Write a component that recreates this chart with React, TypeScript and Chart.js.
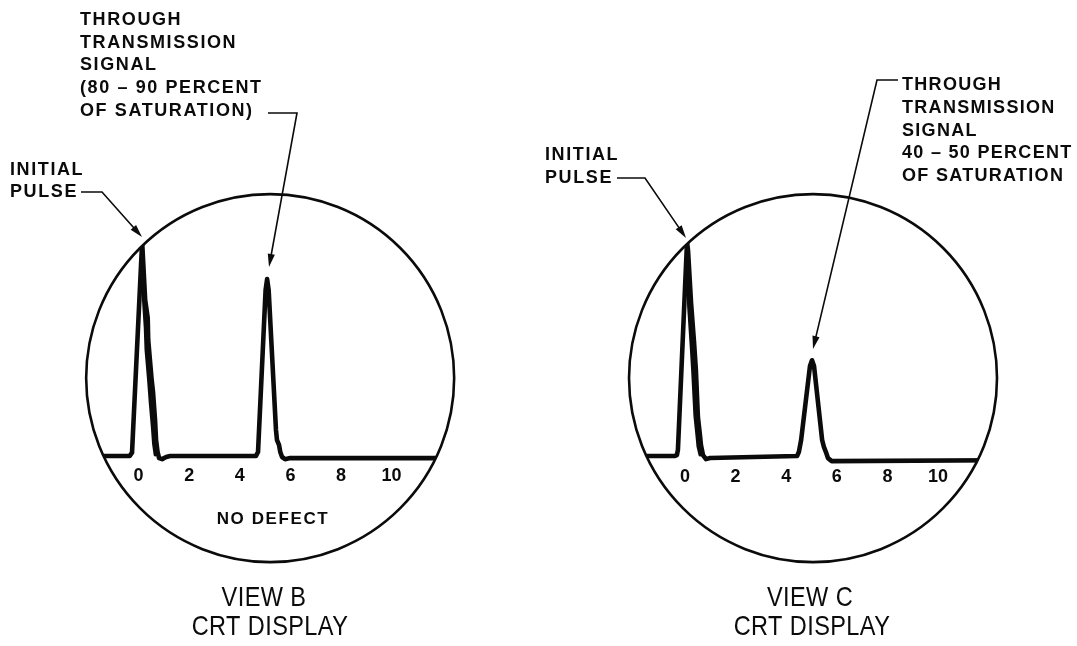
import React, { useEffect, useRef } from "react";
import { Chart, registerables } from "chart.js";

Chart.register(...registerables);

// ---------------- data ----------------
const TICK_VALUES = [0, 2, 4, 6, 8, 10];
const TICK_LABELS = ["0", "2", "4", "6", "8", "10"];

// View B: time (scale divisions) and amplitude (% of saturation)
const VIEW_B_TRACE_X = [-2.5, -0.35, -0.26, 0.14, 0.26, 0.36, 0.38, 0.51, 0.57, 0.65, 0.69, 0.75, 0.81, 0.93, 1.09, 1.25, 4.64, 4.72, 5.02, 5.08, 5.14, 5.43, 5.47, 5.55, 5.6, 5.67, 5.79, 5.99, 12.5];
const VIEW_B_TRACE_Y = [0.5, 0.5, 2, 100, 73, 64.7, 54.4, 36.7, 30.2, 17.2, 7.9, 2.3, -0.5, -1, 0, 0.5, 0.5, 2.3, 77.7, 82.8, 77.7, 12.6, 7.9, 5.6, 2.3, 0, -1, -0.5, -0.5];
const VIEW_B_RING_X = [0.15, 0.2, 0.27, 0.3, 0.4, 0.47, 0.55, 0.6, 0.66];
const VIEW_B_RING_Y = [97, 73, 60, 50, 36, 25, 14, 6, 1];

// View C
const VIEW_C_TRACE_X = [-2.5, -0.4, -0.32, -0.28, 0.08, 0.12, 0.24, 0.36, 0.43, 0.51, 0.59, 0.63, 0.71, 0.83, 0.99, 4.43, 4.5, 4.59, 4.94, 5.02, 5.1, 5.42, 5.49, 5.57, 5.65, 5.8, 12.5];
const VIEW_C_TRACE_Y = [0.5, 0.5, 0.9, 3.3, 100, 96, 71.6, 53, 40.5, 18.6, 10.2, 5.6, 0.9, -1, -0.5, 0.5, 2.3, 7.9, 42.3, 45, 42.3, 7.9, 4.7, 2.3, -0.5, -1.9, -1.5];
const VIEW_C_RING_X = [0.1, 0.15, 0.25, 0.31, 0.4, 0.48, 0.52, 0.6];
const VIEW_C_RING_Y = [95, 70, 52, 40, 19, 10, 5, 1];

// texts
const PULSE_TEXT = ["INITIAL", "PULSE"];
const VIEW_B_SIGNAL_TEXT = ["THROUGH", "TRANSMISSION", "SIGNAL", "(80 \u2013 90 PERCENT", "OF SATURATION)"];
const VIEW_C_SIGNAL_TEXT = ["THROUGH", "TRANSMISSION", "SIGNAL", "40 \u2013 50 PERCENT", "OF SATURATION"];
const VIEW_B_NOTE = "NO DEFECT";
const VIEW_B_CAPTION = ["VIEW B", "CRT DISPLAY"];
const VIEW_C_CAPTION = ["VIEW C", "CRT DISPLAY"];

// ---------------- layout ----------------
const W = 1077;
const H = 646;
const INK = "#0b0b0b";
const FONT = "'Liberation Sans', Arial, Helvetica, sans-serif";

type Pt = [number, number];
interface Layout {
  offsetX: number;
  width: number;
  padding: { left: number; right: number; top: number; bottom: number };
  circleX: number;
  circleY: number;
  radius: number;
  tickY: number;
  pulseX: number;
  pulseY: number[];
  pulseLines: string[];
  pulseLeader: Pt[];
  signalX: number;
  signalY: number[];
  signalLines: string[];
  signalSpacing: number;
  signalLeader: Pt[];
  note?: { text: string; x: number; y: number };
  caption: { lines: string[]; x: number[]; y: number[] };
}

const LAYOUT_B: Layout = {
  offsetX: 0,
  width: 538,
  padding: { left: 88, right: 95.8, top: 242, bottom: 146 },
  circleX: 5.2,
  circleY: 36.7,
  radius: 184,
  tickY: 476,
  pulseX: 10,
  pulseY: [170, 192],
  pulseLines: PULSE_TEXT,
  pulseLeader: [[81, 192], [102, 192], [142, 237]],
  signalX: 80,
  signalY: [20, 43, 65, 88, 111],
  signalLines: VIEW_B_SIGNAL_TEXT,
  signalSpacing: 1.6,
  signalLeader: [[268, 113], [297, 113], [269, 267]],
  note: { text: VIEW_B_NOTE, x: 273, y: 519 },
  caption: { lines: VIEW_B_CAPTION, x: [264, 270], y: [598, 627] },
};

const LAYOUT_C: Layout = {
  offsetX: 538,
  width: 539,
  padding: { left: 96.4, right: 88.4, top: 242, bottom: 146 },
  circleX: 5.06,
  circleY: 36.7,
  radius: 184,
  tickY: 477,
  pulseX: 545,
  pulseY: [155, 178],
  pulseLines: PULSE_TEXT,
  pulseLeader: [[617, 178], [645, 178], [686, 238]],
  signalX: 902,
  signalY: [85, 108, 131, 153, 176],
  signalLines: VIEW_C_SIGNAL_TEXT,
  signalSpacing: 1.3,
  signalLeader: [[898, 80], [877, 80], [813, 349]],
  caption: { lines: VIEW_C_CAPTION, x: [810, 812], y: [598, 627] },
};

function drawText(
  ctx: CanvasRenderingContext2D,
  text: string,
  x: number,
  y: number,
  font: string,
  align: CanvasTextAlign,
  spacing: number,
  scaleX = 1
) {
  ctx.save();
  ctx.font = font;
  ctx.fillStyle = INK;
  ctx.textBaseline = "middle";
  ctx.textAlign = align;
  (ctx as any).letterSpacing = spacing + "px";
  ctx.translate(x, y);
  ctx.scale(scaleX, 1);
  ctx.fillText(text, 0, 0);
  ctx.restore();
}

function drawLeader(ctx: CanvasRenderingContext2D, pts: Pt[], ox: number) {
  ctx.save();
  ctx.strokeStyle = INK;
  ctx.fillStyle = INK;
  ctx.lineWidth = 1.6;
  ctx.lineJoin = "miter";
  const p = pts.map(([x, y]) => [x - ox, y] as Pt);
  const [tx, ty] = p[p.length - 1];
  const [px, py] = p[p.length - 2];
  const ang = Math.atan2(ty - py, tx - px);
  const headLen = 13;
  const halfW = 3.6;
  ctx.beginPath();
  ctx.moveTo(p[0][0], p[0][1]);
  for (let i = 1; i < p.length - 1; i++) ctx.lineTo(p[i][0], p[i][1]);
  ctx.lineTo(tx - Math.cos(ang) * headLen * 0.8, ty - Math.sin(ang) * headLen * 0.8);
  ctx.stroke();
  const bx = tx - Math.cos(ang) * headLen;
  const by = ty - Math.sin(ang) * headLen;
  ctx.beginPath();
  ctx.moveTo(tx, ty);
  ctx.lineTo(bx + Math.sin(ang) * halfW, by - Math.cos(ang) * halfW);
  ctx.lineTo(bx - Math.sin(ang) * halfW, by + Math.cos(ang) * halfW);
  ctx.closePath();
  ctx.fill();
  ctx.restore();
}

function makeCrtPlugin(L: Layout) {
  return {
    id: "crt",
    beforeDatasetsDraw(chart: any) {
      const { ctx } = chart;
      const cx = chart.scales.x.getPixelForValue(L.circleX);
      const cy = chart.scales.y.getPixelForValue(L.circleY);
      ctx.save();
      ctx.beginPath();
      ctx.arc(cx, cy, L.radius + 0.5, 0, Math.PI * 2);
      ctx.clip();
    },
    afterDatasetsDraw(chart: any) {
      chart.ctx.restore();
    },
    afterDraw(chart: any) {
      const ctx: CanvasRenderingContext2D = chart.ctx;
      const xs = chart.scales.x;
      const ys = chart.scales.y;
      const ox = L.offsetX;
      // CRT face
      ctx.save();
      ctx.strokeStyle = INK;
      ctx.lineWidth = 2.6;
      ctx.beginPath();
      ctx.arc(xs.getPixelForValue(L.circleX), ys.getPixelForValue(L.circleY), L.radius, 0, Math.PI * 2);
      ctx.stroke();
      ctx.restore();
      // scale numbers
      TICK_VALUES.forEach((v, i) => {
        drawText(ctx, TICK_LABELS[i], xs.getPixelForValue(v), L.tickY, `bold 18px ${FONT}`, "center", 0);
      });
      // annotations
      const aFont = `bold 18px ${FONT}`;
      L.pulseLines.forEach((t, i) => drawText(ctx, t, L.pulseX - ox, L.pulseY[i], aFont, "left", 1.6));
      L.signalLines.forEach((t, i) =>
        drawText(ctx, t, L.signalX - ox, L.signalY[i], aFont, "left", L.signalSpacing)
      );
      drawLeader(ctx, L.pulseLeader, ox);
      drawLeader(ctx, L.signalLeader, ox);
      if (L.note) drawText(ctx, L.note.text, L.note.x - ox, L.note.y, `bold 17px ${FONT}`, "center", 1.6);
      L.caption.lines.forEach((t, i) =>
        drawText(ctx, t, L.caption.x[i] - ox, L.caption.y[i], `28px ${FONT}`, "center", 0.5, 0.84)
      );
    },
  };
}

function toPoints(xs: number[], ys: number[]) {
  return xs.map((x, i) => ({ x, y: ys[i] }));
}

function CrtView(props: { layout: Layout; tx: number[]; ty: number[]; rx: number[]; ry: number[] }) {
  const ref = useRef<HTMLCanvasElement>(null);
  const { layout } = props;
  useEffect(() => {
    if (!ref.current) return;
    const chart = new Chart(ref.current, {
      type: "line",
      data: {
        datasets: [
          {
            label: "Trace",
            data: toPoints(props.tx, props.ty),
            borderColor: INK,
            borderWidth: 4.6,
            pointRadius: 0,
            tension: 0,
            fill: false,
            borderJoinStyle: "round",
            borderCapStyle: "round",
            clip: false as any,
          },
          {
            label: "Ringing",
            data: toPoints(props.rx, props.ry),
            borderColor: INK,
            borderWidth: 3.4,
            pointRadius: 0,
            tension: 0,
            fill: false,
            borderJoinStyle: "round",
            borderCapStyle: "round",
            clip: false as any,
          },
        ],
      },
      options: {
        responsive: false,
        animation: false,
        events: [],
        layout: { padding: layout.padding },
        plugins: { legend: { display: false }, tooltip: { enabled: false }, title: { display: false } },
        scales: {
          x: { type: "linear", min: -2, max: 12, display: false },
          y: { type: "linear", min: -20, max: 100, display: false },
        },
      },
      plugins: [makeCrtPlugin(layout)],
    });
    return () => chart.destroy();
  }, []);
  return (
    <canvas
      ref={ref}
      width={layout.width}
      height={H}
      style={{ position: "absolute", left: layout.offsetX, top: 0, width: layout.width, height: H }}
    />
  );
}

export default function App() {
  return (
    <div style={{ position: "absolute", left: 0, top: 0, width: W, height: H, background: "#fff", overflow: "hidden" }}>
      <CrtView layout={LAYOUT_B} tx={VIEW_B_TRACE_X} ty={VIEW_B_TRACE_Y} rx={VIEW_B_RING_X} ry={VIEW_B_RING_Y} />
      <CrtView layout={LAYOUT_C} tx={VIEW_C_TRACE_X} ty={VIEW_C_TRACE_Y} rx={VIEW_C_RING_X} ry={VIEW_C_RING_Y} />
    </div>
  );
}
